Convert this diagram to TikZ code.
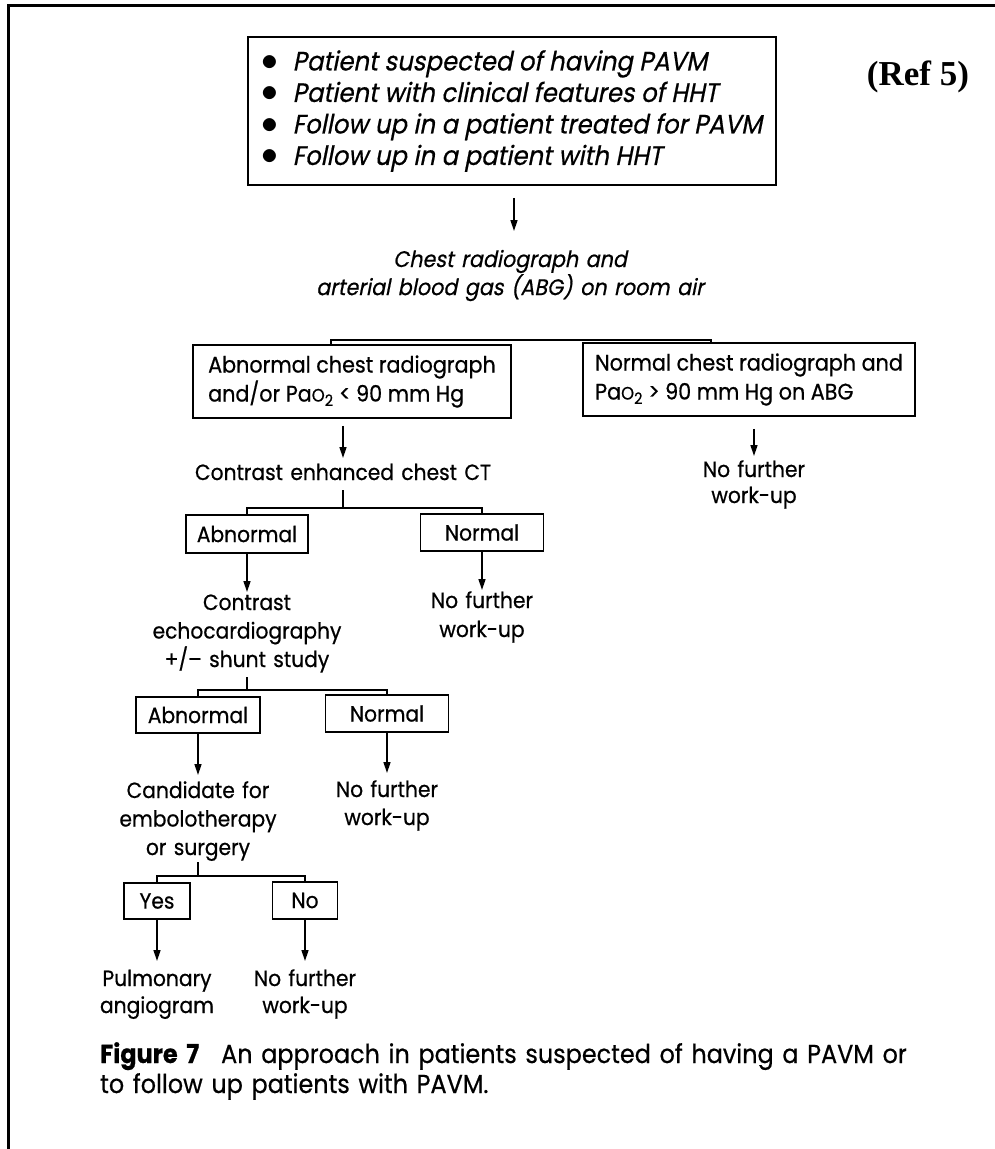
\documentclass[tikz,border=0pt]{standalone}
\usepackage{graphicx}
\usepackage{fontspec}
\setmainfont{Poppins}[FakeStretch=0.92,FakeBold=0.6]
\newfontfamily\obl{Poppins}[FakeSlant=0.2,FakeStretch=0.92,FakeBold=0.6]
\newfontfamily\reff{Liberation Serif}
\newcommand{\bul}{\scalebox{1.35}{$\bullet$}\hspace{14pt}}
\usetikzlibrary{arrows.meta,calc}
\begin{document}
\begin{tikzpicture}[x=1pt,y=-1pt,
  box/.style={draw, line width=1.5pt, inner sep=0pt, align=center},
  txt/.style={text width=#1, align=center, inner sep=0pt, anchor=base},
  txt/.default=300pt,
  arr/.style={line width=1.5pt, -{Triangle[length=11pt,width=7pt]}},
  ln/.style={line width=1.5pt},
  font=\fontsize{22}{28}\selectfont]
\useasboundingbox (0,0) rectangle (995,1149);
\draw[line width=3pt] (8.5,1149) -- (8.5,5.5) -- (995,5.5);

\node[box, minimum width=528pt, minimum height=148pt, align=left, font=\obl\fontsize{26.5}{31.5}\selectfont] (top) at (512,111)
 {\bul Patient suspected of having PAVM\\
  \bul Patient with clinical features of HHT\\
  \bul Follow up in a patient treated for PAVM\\
  \bul Follow up in a patient with HHT};
\node[anchor=base, font=\reff\bfseries\fontsize{35}{40}\selectfont] (ref) at (918,85) {(Ref 5)};

\node[txt=460pt, font=\obl\fontsize{22.5}{26.5}\selectfont] (chest) at (510,267)
 {Chest radiograph and\\arterial blood gas (ABG) on room air};

\node[box, align=left, minimum width=318pt, minimum height=73pt, font=\fontsize{22.5}{29}\selectfont] (abn2) at (352,381.5)
 {Abnormal chest radiograph\\and/or Pa\scalebox{0.8}{O}\textsubscript{2} < 90 mm Hg};
\node[box, align=left, minimum width=332pt, minimum height=73pt, font=\fontsize{22.5}{29}\selectfont] (rnor2) at (749,379.5)
 {Normal chest radiograph and\\Pa\scalebox{0.8}{O}\textsubscript{2} > 90 mm Hg on ABG};

\node[txt=400pt] (ct) at (343,480) {Contrast enhanced chest CT};
\node[txt=200pt, font=\fontsize{22}{26}\selectfont] (nfr) at (754,477) {No further\\work-up};

\node[box, minimum width=122pt, minimum height=38pt] (abn3) at (247,534) {Abnormal};
\node[box, minimum width=123pt, minimum height=37pt] (nor3) at (482,532.5) {Normal};

\node[txt=250pt, font=\fontsize{22}{28.5}\selectfont] (echo) at (247,610) {Contrast\\echocardiography\\+/– shunt study};
\node[txt=200pt, font=\fontsize{22}{29}\selectfont] (nf3) at (482,608) {No further\\work-up};

\node[box, minimum width=124pt, minimum height=36pt] (abn4) at (198,715) {Abnormal};
\node[box, minimum width=123pt, minimum height=37pt] (nor4) at (387,713.5) {Normal};

\node[txt=250pt, font=\fontsize{22}{28.5}\selectfont] (cand) at (198,798) {Candidate for\\embolotherapy\\or surgery};
\node[txt=200pt, font=\fontsize{22}{28}\selectfont] (nf4) at (387,797) {No further\\work-up};

\node[box, minimum width=66pt, minimum height=36pt] (yes) at (157,901) {Yes};
\node[box, minimum width=65pt, minimum height=37pt] (no) at (305,900.5) {No};

\node[txt=200pt, font=\fontsize{22}{27}\selectfont] (pulm) at (157,986) {Pulmonary\\angiogram};
\node[txt=200pt, font=\fontsize{22}{27}\selectfont] (nf5) at (305,986) {No further\\work-up};

\node[anchor=base west, text width=890pt, align=left, inner sep=0pt, font=\fontsize{26}{30}\selectfont] (cap) at (100,1063)
 {\textbf{Figure 7}\hspace{22pt}An approach in patients suspected of having a PAVM or\\to follow up patients with PAVM.};

% connectors
\draw[arr] ($(top.south)+(2,12)$) -- ($(chest.base)+(4,-36)$);
\coordinate (b2l) at (331,340);
\coordinate (b2r) at (711,340);
\draw[ln] (b2l |- abn2.north) -- (b2l) -- (b2r) -- (b2r |- rnor2.north);
\draw[arr] ($(ct.base |- abn2.south)+(0,7)$) -- ($(ct.base)+(0,-22)$);
\draw[arr] ($(nfr.base |- rnor2.south)+(0,12)$) -- ($(nfr.base)+(0,-21)$);

\coordinate (b3) at (343,508);
\draw[ln] ($(ct.base)+(0,10)$) -- (b3);
\draw[ln] (abn3.north) |- (b3) -| (nor3.north);
\draw[arr] (abn3.south) -- ($(echo.base)+(0,-18)$);
\draw[arr] (nor3.south) -- ($(nf3.base)+(0,-18)$);

\coordinate (b4) at (247,690);
\draw[ln] ($(echo.base)+(0,67)$) -- (b4);
\draw[ln] (abn4.north) |- (b4) -| (nor4.north);
\draw[arr] (abn4.south) -- ($(cand.base)+(0,-23)$);
\draw[arr] (nor4.south) -- ($(nf4.base)+(0,-24)$);

\coordinate (b5) at (198,876);
\draw[ln] ($(cand.base)+(0,64)$) -- (b5);
\draw[ln] (yes.north) |- (b5) -| (no.north);
\draw[arr] (yes.south) -- ($(pulm.base)+(0,-25)$);
\draw[arr] (no.south) -- ($(nf5.base)+(0,-25)$);
\end{tikzpicture}
\end{document}
